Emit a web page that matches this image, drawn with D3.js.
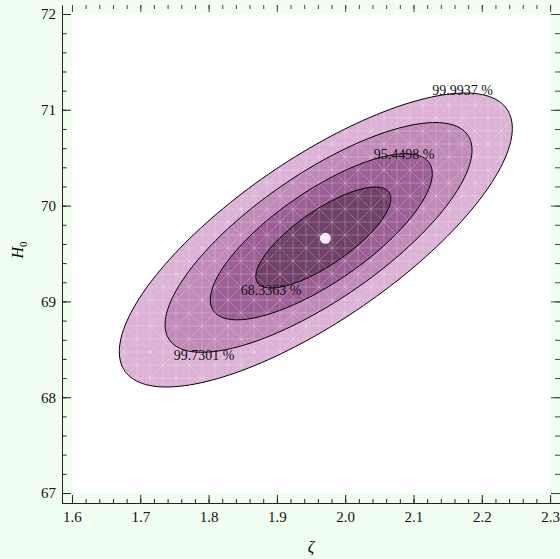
<!DOCTYPE html>
<html lang="en">
<head>
<meta charset="utf-8">
<script src="https://cdnjs.cloudflare.com/ajax/libs/d3/7.8.5/d3.min.js"></script>
<style>
  html, body { margin: 0; padding: 0; background: #f0fff0; }
  svg { display: block; }
  .tick text { font-family: "Liberation Serif", "Times New Roman", serif; font-size: 15px; fill: #111; }
  .lbl { font-family: "Liberation Serif", "Times New Roman", serif; font-size: 14px; fill: #111; }
</style>
</head>
<body>
<svg width="560" height="559"></svg>
<script>
// contours (outermost first)
var levelNames = ["99.9937 %", "99.7301 %", "95.4498 %", "68.3363 %"];
var centerZeta = [1.957, 1.961, 1.965, 1.968];
var centerH0   = [69.641, 69.668, 69.675, 69.667];
var halfZeta   = [0.2877, 0.2247, 0.1625, 0.0988];   // half width along zeta
var halfH0     = [1.534, 1.199, 0.867, 0.527];       // half height along H0
var corr       = [0.76, 0.76, 0.76, 0.77];
var bandColors = ["#dcb2d6", "#c08ab9", "#9d6096", "#704169"];

// where the contour labels sit
var labelZeta = [2.1717, 1.7933, 2.0861, 1.8914];
var labelH0   = [71.154, 68.388, 70.486, 69.067];

// best fit point
var bestZeta = 1.971, bestH0 = 69.659;

var xMajor = [1.6, 1.7, 1.8, 1.9, 2.0, 2.1, 2.2, 2.3];
var yMajor = [67, 68, 69, 70, 71, 72];

var svg = d3.select("svg");

var x = d3.scaleLinear().domain([1.5854, 2.3145]).range([62, 560]);
var y = d3.scaleLinear().domain([66.896, 72.094]).range([503, 5]);

// white plot region
svg.append("rect")
    .attr("x", x(1.6)).attr("y", y(72))
    .attr("width", x(2.3) - x(1.6))
    .attr("height", y(67) - y(72))
    .attr("fill", "#fff");

// mesh look of the shaded regions
var defs = svg.append("defs");
var pat = defs.append("pattern")
    .attr("id", "mesh")
    .attr("patternUnits", "userSpaceOnUse")
    .attr("x", x(1.6)).attr("y", y(72))
    .attr("width", 26).attr("height", 26);
pat.append("path")
    .attr("d", "M0,0H26V26H0Z M0,0L26,26 M26,0L0,26 M13,0V26 M0,13H26")
    .attr("fill", "none")
    .attr("stroke", "#fff")
    .attr("stroke-opacity", 0.28)
    .attr("stroke-width", 0.8);

function ellipsePts(i) {
  var pts = [];
  var s = Math.sqrt(1 - corr[i] * corr[i]);
  for (var k = 0; k <= 180; k++) {
    var t = k / 180 * 2 * Math.PI;
    pts.push([centerZeta[i] + halfZeta[i] * Math.cos(t),
              centerH0[i] + halfH0[i] * (corr[i] * Math.cos(t) + s * Math.sin(t))]);
  }
  return pts;
}

var line = d3.line()
    .x(function (d) { return x(d[0]); })
    .y(function (d) { return y(d[1]); })
    .curve(d3.curveLinearClosed);

var g = svg.append("g");
levelNames.forEach(function (name, i) {
  var p = ellipsePts(i);
  g.append("path")
      .attr("d", line(p))
      .attr("fill", bandColors[i]);
  g.append("path")
      .attr("d", line(p))
      .attr("fill", "url(#mesh)");
  g.append("path")
      .attr("d", line(p))
      .attr("fill", "none")
      .attr("stroke", "#000")
      .attr("stroke-width", 1);
});

svg.append("circle")
    .attr("cx", x(bestZeta)).attr("cy", y(bestH0))
    .attr("r", 5.5)
    .attr("fill", "#f8eef8");

svg.selectAll(".lbl")
    .data(levelNames)
    .enter()
    .append("text")
    .attr("class", "lbl")
    .attr("x", function (d, i) { return x(labelZeta[i]); })
    .attr("y", function (d, i) { return y(labelH0[i]); })
    .attr("text-anchor", "middle")
    .text(function (d) { return d; });

// axes
var xMinor = d3.range(80, 116).map(function (v) { return v / 50; });
var yMinor = d3.range(335, 361).map(function (v) { return v / 5; });

function styleAxis(sel) {
  sel.selectAll("line").attr("stroke", "#222");
  sel.selectAll("path").attr("stroke", "#222");
}

svg.append("g").attr("transform", "translate(0,503)")
    .call(d3.axisBottom(x).tickValues(xMinor).tickSize(-4).tickSizeOuter(0).tickFormat(""))
    .call(styleAxis);
svg.append("g").attr("transform", "translate(0,503)")
    .call(d3.axisBottom(x).tickValues(xMajor).tickSize(-8).tickSizeOuter(0).tickPadding(8).tickFormat(d3.format(".1f")))
    .call(styleAxis);

svg.append("g").attr("transform", "translate(62,0)")
    .call(d3.axisLeft(y).tickValues(yMinor).tickSize(-4.5).tickSizeOuter(0).tickFormat(""))
    .call(styleAxis);
svg.append("g").attr("transform", "translate(62,0)")
    .call(d3.axisLeft(y).tickValues(yMajor).tickSize(-9).tickSizeOuter(0).tickPadding(6).tickFormat(d3.format("d")))
    .call(styleAxis);

// top and right: ticks only
var top1 = svg.append("g").attr("transform", "translate(0,5)")
    .call(d3.axisTop(x).tickValues(xMinor).tickSize(-4).tickFormat(""));
var top2 = svg.append("g").attr("transform", "translate(0,5)")
    .call(d3.axisTop(x).tickValues(xMajor).tickSize(-7).tickFormat(""));
var r1 = svg.append("g").attr("transform", "translate(560,0)")
    .call(d3.axisRight(y).tickValues(yMinor).tickSize(-5).tickFormat(""));
var r2 = svg.append("g").attr("transform", "translate(560,0)")
    .call(d3.axisRight(y).tickValues(yMajor).tickSize(-9).tickFormat(""));
[top1, top2, r1, r2].forEach(function (a) {
  a.select(".domain").remove();
  a.selectAll("line").attr("stroke", "#444");
});

// axis titles
svg.append("text")
    .attr("x", 311).attr("y", 552)
    .attr("text-anchor", "middle")
    .style("font-family", "Liberation Serif, serif")
    .style("font-style", "italic")
    .style("font-size", "16px")
    .text("ζ");

var yt = svg.append("text")
    .attr("transform", "translate(23,250) rotate(-90)")
    .attr("text-anchor", "middle")
    .style("font-family", "Liberation Serif, serif")
    .style("font-size", "16px");
yt.append("tspan").style("font-style", "italic").text("H");
yt.append("tspan").attr("dy", 4).style("font-size", "11px").text("0");
</script>
</body>
</html>
